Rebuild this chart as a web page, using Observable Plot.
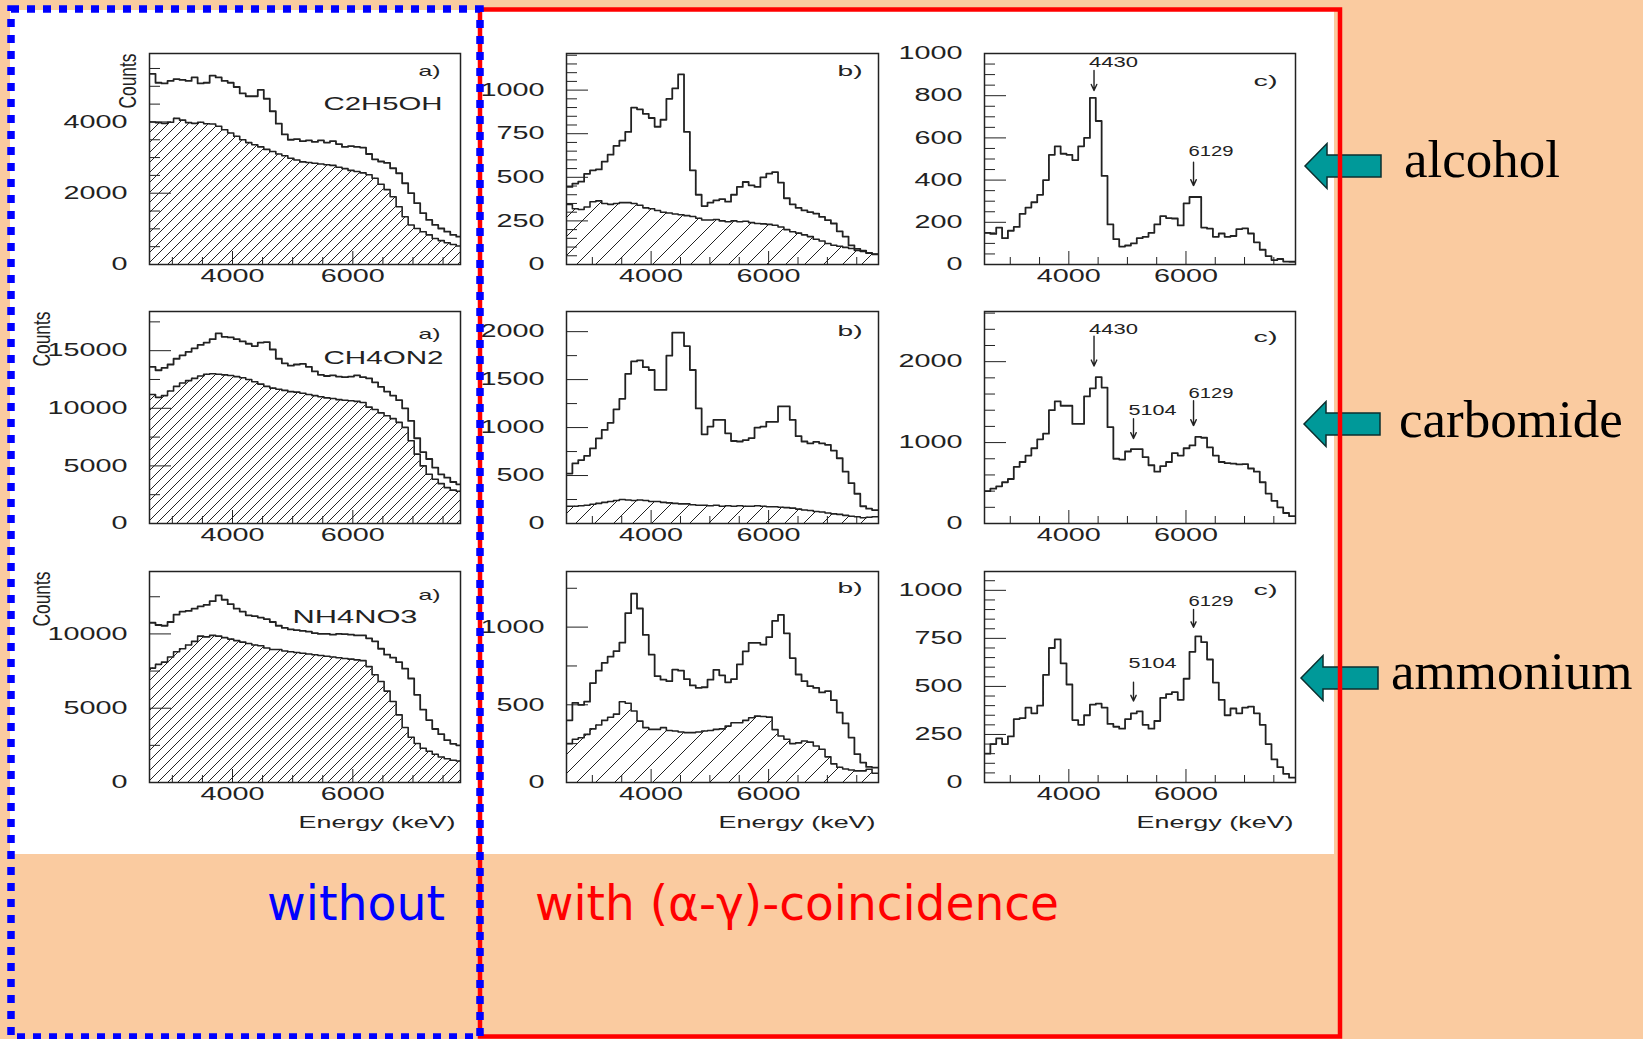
<!DOCTYPE html>
<html>
<head>
<meta charset="utf-8">
<script src="https://cdn.jsdelivr.net/npm/d3@7"></script>
<script src="https://cdn.jsdelivr.net/npm/@observablehq/plot@0.6"></script>
<style>
  html, body { margin: 0; padding: 0; }
  body { width: 1643px; height: 1039px; position: relative; overflow: hidden; background: #FACBA0; }
  .layer { position: absolute; left: 0; top: 0; }
  .panel { position: absolute; }
</style>
</head>
<body>
<svg class="layer" id="under" width="1643" height="1039">
  <defs>
    <pattern id="hatch-fine" patternUnits="userSpaceOnUse" width="10" height="10">
      <path d="M-2.5,2.5 L2.5,-2.5 M0,10 L10,0 M7.5,12.5 L12.5,7.5" stroke="#222" stroke-width="1"/>
    </pattern>
    <pattern id="hatch-wide" patternUnits="userSpaceOnUse" width="19" height="19">
      <path d="M-4.75,4.75 L4.75,-4.75 M0,19 L19,0 M14.25,23.75 L23.75,14.25" stroke="#222" stroke-width="1"/>
    </pattern>
  </defs>
  <rect x="10" y="10" width="1324" height="844" fill="#ffffff"/>
</svg>
<div id="panels"></div>
<svg class="layer" id="over" width="1643" height="1039">
  <g fill="#009999" stroke="#0b2f2f" stroke-width="1.5" stroke-linejoin="miter">
    <polygon points="1305,166 1327,143.5 1327,155 1381,155 1381,177 1327,177 1327,188.5"/>
    <polygon points="1304,424 1326,401.5 1326,413 1380,413 1380,435 1326,435 1326,446.5"/>
    <polygon points="1301,678 1323,655.5 1323,667 1378,667 1378,689 1323,689 1323,700.5"/>
  </g>
  <rect x="480" y="9.5" width="860" height="1027" fill="none" stroke="#FF0000" stroke-width="4.5"/>
  <rect x="11" y="9" width="469" height="1028" fill="none" stroke="#0000FF" stroke-width="7.5" stroke-dasharray="8 8"/>
  <g font-family="Liberation Serif" font-size="53" fill="#000">
    <text x="1404" y="177">alcohol</text>
    <text x="1399" y="437">carbomide</text>
    <text x="1391" y="689">ammonium</text>
  </g>
  <g font-family="DejaVu Sans" font-size="48">
    <text x="267" y="920" fill="#0000FF" textLength="178" lengthAdjust="spacingAndGlyphs">without</text>
    <text x="535" y="920" fill="#FF0000" textLength="524" lengthAdjust="spacingAndGlyphs">with (α-γ)-coincidence</text>
  </g>
</svg>
<script>
// Gamma spectra, 100 keV bins. Column a: without coincidence (sample + hatched background),
// column b: with (alpha-gamma) coincidence (sample + hatched background), column c: net spectrum.
const binWidth = 100;

// Energy axis ticks (keV)
const energyTicks = [4000, 6000];
const energyMinor = [3000, 3500, 4500, 5000, 5500, 6500, 7000, 7500];

// Alcohol (C2H5OH)
const alcoholSample = [5350,5100,5080,5150,5200,5180,5150,5250,5080,5100, 5300,5250,5150,5100,4980,4800,4720,4720,4900,4650, 4300,3950,3650,3500,3520,3460,3480,3440,3480,3420, 3460,3380,3300,3320,3300,3280,3100,2950,2890,2850, 2700,2560,2280,2000,1720,1440,1250,1110,1010,920, 830,780];
const alcoholBackground = [4000,3980,3960,3990,4100,4050,3980,3960,3990,3950, 3940,3880,3780,3690,3600,3500,3420,3360,3300,3230, 3170,3100,3050,2980,2930,2880,2860,2840,2820,2800, 2780,2730,2690,2640,2610,2570,2520,2420,2250,2100, 1900,1620,1340,1110,1010,920,830,730,670,610, 560,520];
const alcoholCoinc = [445,464,475,520,540,545,590,630,680,710, 760,900,890,864,840,790,830,950,1010,1090, 760,540,400,335,355,368,375,360,400,445, 473,454,445,500,521,530,470,380,345,325, 310,300,292,273,254,235,190,160,110,90, 80,67,59];
const alcoholCoincBackground = [345,320,315,330,360,365,350,345,350,355, 355,350,340,325,320,310,300,295,290,285, 280,275,265,255,255,258,250,245,250,245, 248,240,235,233,230,225,215,200,188,180, 170,160,145,135,120,110,105,98,92,80, 75,65,58];
const alcoholNet = [150,145,175,125,160,178,240,270,295,330, 400,520,560,525,520,495,560,600,790,680, 420,190,120,85,90,100,125,131,150,190, 229,220,218,185,290,320,320,175,170,131, 147,131,135,168,171,147,105,70,40,21, 26,14,13];
const alcoholPeaks = [
  {energy: 4430, from: 920, to: 825, label: 958},
  {energy: 6129, from: 485, to: 374, label: 535}
];

// Carbomide (CH4ON2)
const carbomideSample = [13600,13300,13500,13800,14300,14600,14900,15200,15500,15700, 16000,16500,16200,16150,16000,15800,15600,15400,15700,15750, 15100,14300,13900,13700,13800,13850,13600,13200,12900,12800, 12850,12750,12700,12750,12850,12700,12600,12250,11850,11450, 11100,10700,10000,8900,7400,6200,5600,4850,4270,3980, 3600,3400];
const carbomideBackground = [11200,10950,11100,11500,11900,12200,12400,12600,12800,12950, 13000,12950,12900,12850,12750,12650,12500,12300,12100,11900, 11750,11650,11550,11450,11400,11300,11200,11100,11000,10900, 10850,10750,10700,10650,10600,10500,10100,9900,9600,9350, 9100,8780,8340,7180,6020,5000,4270,3840,3460,3110, 2900,2800];
const carbomideCoinc = [520,626,661,706,783,887,975,1050,1190,1300, 1560,1690,1700,1630,1600,1392,1392,1750,1990,1990, 1850,1600,1200,930,1010,1080,1080,940,860,855, 870,890,1000,1010,1060,1060,1220,1220,1080,910, 855,835,850,835,820,760,680,540,420,310, 180,155,140];
const carbomideCoincBackground = [180,180,185,190,200,210,220,230,240,250, 245,240,245,240,230,230,220,215,210,205, 205,195,190,190,185,190,180,185,180,185, 180,180,185,180,175,175,170,165,160,150, 140,135,125,120,110,100,95,85,75,70, 60,65,70];
const carbomideNet = [400,430,460,510,550,700,760,840,930,1040, 1110,1400,1510,1455,1455,1230,1230,1570,1670,1810, 1680,1190,800,790,890,920,920,820,720,640, 710,760,870,840,930,965,1070,1060,940,840, 760,745,740,730,735,680,640,510,370,280, 200,130,90];
const carbomidePeaks = [
  {energy: 4430, from: 2316, to: 1947, label: 2402},
  {energy: 5104, from: 1296, to: 1050, label: 1394},
  {energy: 6129, from: 1517, to: 1210, label: 1603}
];

// Ammonium (NH4NO3)
const ammoniumSample = [10750,10600,10550,10800,11300,11500,11550,11700,11850,11950, 12200,12600,12300,12000,11700,11500,11250,11200,11100,11000, 10800,10550,10400,10300,10250,10200,10150,10050,10000,10000, 9950,10000,9980,9950,9900,9900,9700,9500,9000,8600, 8400,8100,7660,7000,5900,4900,4200,3600,3250,2850, 2600,2500];
const ammoniumBackground = [7700,7950,8100,8450,8800,9000,9250,9500,9850,9800, 9900,9850,9750,9650,9550,9450,9350,9250,9200,9050, 8950,8950,8850,8800,8750,8700,8650,8600,8550,8500, 8450,8400,8350,8300,8250,8200,7800,7250,6800,6150, 5450,4550,3700,3050,2620,2300,2100,1900,1720,1600, 1500,1450];
const ammoniumCoinc = [400,513,500,520,640,720,770,810,845,900, 1090,1215,1120,950,823,684,662,652,727,720, 665,625,609,613,662,725,690,645,665,760, 844,898,898,887,935,1040,1079,960,801,695, 652,620,609,580,588,530,450,380,289,182, 128,100,96];
const ammoniumCoincBackground = [250,278,288,310,345,370,400,420,440,520, 510,460,395,353,342,342,353,335,331,325, 321,321,325,331,335,342,345,363,385,385, 400,417,427,425,421,340,299,278,250,255, 267,260,235,214,165,120,98,87,80,75, 75,85,60];
const ammoniumNet = [150,200,230,200,240,330,335,390,360,400, 560,700,745,620,510,325,300,350,405,410, 390,305,290,280,330,360,370,300,280,320, 440,460,470,430,540,680,760,730,640,520, 430,350,385,360,390,395,360,300,200,120, 80,45,25];
const ammoniumPeaks = [
  {energy: 5104, from: 522, to: 424, label: 619},
  {energy: 6129, from: 901, to: 808, label: 943}
];

// Layout of the 3x3 grid of frames (page pixels)
const margin = {top: 10, right: 10, bottom: 60, left: 110};
const columns = [
  {left: 149, width: 311, start: 2620, domain: [2620, 7790], hatch: "url(#hatch-fine)"},
  {left: 566, width: 312, start: 2560, domain: [2560, 7870], hatch: "url(#hatch-wide)"},
  {left: 984, width: 311, start: 2560, domain: [2560, 7870], hatch: null}
];
const rows = [
  {top: 53, height: 211},
  {top: 311, height: 212},
  {top: 571, height: 211}
];

const panels = [
  {col: 0, row: 0, sample: alcoholSample, background: alcoholBackground, yMax: 5920, yTicks: [0, 2000, 4000], yStep: 500,
   tag: "a)", tagAt: [-20, 11.5], name: "C2H5OH", nameAt: [-18, 43.5], countsDx: -31},
  {col: 1, row: 0, sample: alcoholCoinc, background: alcoholCoincBackground, yMax: 1210, yTicks: [0, 250, 500, 750, 1000], yStep: 50,
   tag: "b)", tagAt: [-16, 12]},
  {col: 2, row: 0, sample: alcoholNet, yMax: 1000, yTicks: [0, 200, 400, 600, 800, 1000], yStep: 50,
   tag: "c)", tagAt: [-18, 22], peaks: alcoholPeaks},
  {col: 0, row: 1, sample: carbomideSample, background: carbomideBackground, yMax: 18400, yTicks: [0, 5000, 10000, 15000], yStep: 2500,
   tag: "a)", tagAt: [-20, 16.5], name: "CH4ON2", nameAt: [-17, 39.5], countsDx: -117},
  {col: 1, row: 1, sample: carbomideCoinc, background: carbomideCoincBackground, yMax: 2210, yTicks: [0, 500, 1000, 1500, 2000], yStep: 250,
   tag: "b)", tagAt: [-16, 14]},
  {col: 2, row: 1, sample: carbomideNet, yMax: 2620, yTicks: [0, 1000, 2000], yStep: 200,
   tag: "c)", tagAt: [-18, 20], peaks: carbomidePeaks},
  {col: 0, row: 2, sample: ammoniumSample, background: ammoniumBackground, yMax: 14200, yTicks: [0, 5000, 10000], yStep: 2500,
   tag: "a)", tagAt: [-20, 18], name: "NH4NO3", nameAt: [-43, 39], countsDx: -117, energyDx: -5},
  {col: 1, row: 2, sample: ammoniumCoinc, background: ammoniumCoincBackground, yMax: 1358, yTicks: [0, 500, 1000], yStep: 250,
   tag: "b)", tagAt: [-16, 10.5], energyDx: -3},
  {col: 2, row: 2, sample: ammoniumNet, yMax: 1098, yTicks: [0, 250, 500, 750, 1000], yStep: 50,
   tag: "c)", tagAt: [-18, 13], peaks: ammoniumPeaks, energyDx: -2}
];

const ink = "#222";

// The plotter's lettering is wide; labels are stretched to their printed widths.
const digitAdvance = 16;
const textWidths = new Map([
  ["C2H5OH", 119], ["CH4ON2", 120], ["NH4NO3", 125],
  ["a)", 22], ["b)", 25], ["c)", 24],
  ["Counts", 55], ["Energy (keV)", 157],
  ["4430", 49], ["6129", 45], ["5104", 48]
]);
function stretchLabels(svg) {
  for (const t of svg.querySelectorAll("text")) {
    const s = t.textContent.trim();
    const w = textWidths.has(s) ? textWidths.get(s) : (/^\d+$/.test(s) ? s.length * digitAdvance : null);
    if (w) {
      t.setAttribute("textLength", w);
      t.setAttribute("lengthAdjust", "spacingAndGlyphs");
    }
  }
}

// Histogram as step points: one point per bin start, plus the closing edge.
function stepPoints(counts, start) {
  const pts = counts.map((count, i) => ({energy: start + i * binWidth, count}));
  pts.push({energy: start + counts.length * binWidth, count: counts[counts.length - 1]});
  return pts;
}

function drawPanel(p) {
  const col = columns[p.col], row = rows[p.row];
  const W = col.width, H = row.height;
  const marks = [];
  if (p.background) {
    const bg = stepPoints(p.background, col.start);
    marks.push(Plot.areaY(bg, {x: "energy", y: "count", curve: "step-after", fill: col.hatch, clip: true}));
    marks.push(Plot.lineY(bg, {x: "energy", y: "count", curve: "step-after", stroke: ink, strokeWidth: 1.6, clip: true}));
  }
  marks.push(Plot.lineY(stepPoints(p.sample, col.start), {x: "energy", y: "count", curve: "step-after", stroke: ink, strokeWidth: 1.8, clip: true}));

  // inward ticks
  const yMinor = d3.range(0, p.yMax, p.yStep).filter((v) => !p.yTicks.includes(v));
  marks.push(Plot.tickX(energyMinor, {insetTop: H - 7, stroke: ink}));
  marks.push(Plot.tickX(energyTicks, {insetTop: H - 13, stroke: ink}));
  marks.push(Plot.tickY(yMinor, {insetRight: W - 11, stroke: ink}));
  marks.push(Plot.tickY(p.yTicks, {insetRight: W - 22, stroke: ink}));
  marks.push(Plot.frame({stroke: ink, strokeWidth: 1.5}));

  marks.push(Plot.text([p.tag], {text: (d) => d, frameAnchor: "top-right", textAnchor: "end", dx: p.tagAt[0], dy: p.tagAt[1], fontSize: 15}));
  if (p.name) {
    marks.push(Plot.text([p.name], {text: (d) => d, frameAnchor: "top-right", textAnchor: "end", dx: p.nameAt[0], dy: p.nameAt[1], fontSize: 18}));
  }
  if (p.col === 0) {
    marks.push(Plot.text(["Counts"], {text: (d) => d, frameAnchor: "top-left", rotate: -90, textAnchor: "end", dx: p.countsDx, dy: 0, fontSize: 24}));
  }
  if (p.row === 2) {
    marks.push(Plot.text(["Energy (keV)"], {text: (d) => d, frameAnchor: "bottom-right", textAnchor: "end", dx: p.energyDx, dy: 45, fontSize: 17}));
  }
  if (p.peaks) {
    marks.push(Plot.arrow(p.peaks, {x1: "energy", x2: "energy", y1: "from", y2: "to", stroke: ink, strokeWidth: 1.4, headLength: 7, headAngle: 50}));
    marks.push(Plot.text(p.peaks, {x: "energy", y: "label", text: (d) => String(d.energy), textAnchor: "start", dx: -5, fontSize: 14}));
  }

  const svg = Plot.plot({
    width: W + margin.left + margin.right,
    height: H + margin.top + margin.bottom,
    marginTop: margin.top, marginRight: margin.right, marginBottom: margin.bottom, marginLeft: margin.left,
    style: {background: "transparent", overflow: "visible", fontFamily: "Liberation Sans", fontSize: "18px", color: ink},
    x: {domain: col.domain, ticks: energyTicks, tickSize: 0, tickPadding: 5, tickFormat: (d) => String(d), label: null},
    y: {domain: [0, p.yMax], ticks: p.yTicks, tickSize: 0, tickPadding: 22, tickFormat: (d) => String(d), label: null},
    marks
  });
  stretchLabels(svg);
  const holder = document.createElement("div");
  holder.className = "panel";
  holder.style.left = (col.left - margin.left) + "px";
  holder.style.top = (row.top - margin.top) + "px";
  holder.appendChild(svg);
  document.getElementById("panels").appendChild(holder);
}

panels.forEach(drawPanel);
</script>
</body>
</html>
